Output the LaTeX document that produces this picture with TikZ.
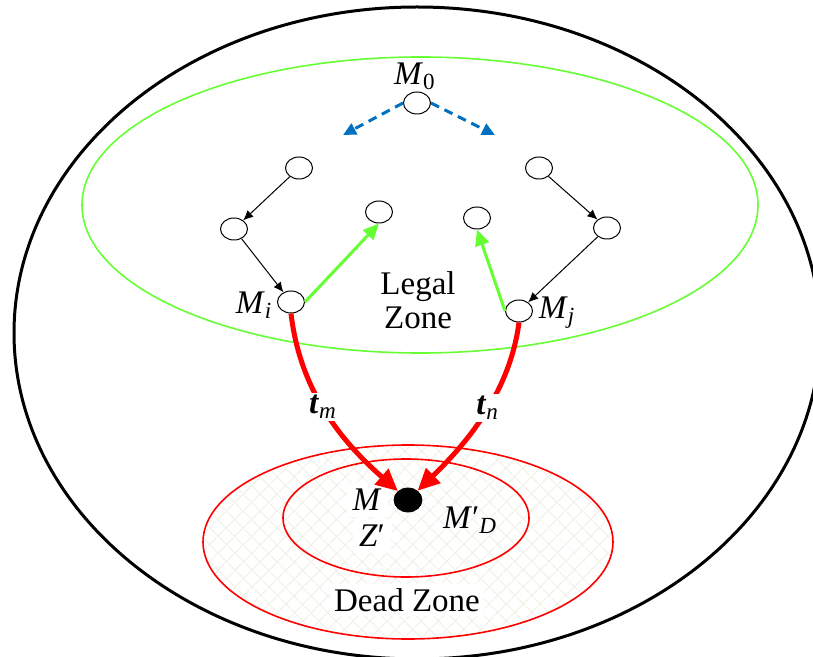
\documentclass[tikz,border=0pt]{standalone}
\usepackage{fontspec}
\setmainfont{Liberation Serif}
\usepackage{tikz}
\usetikzlibrary{arrows.meta,shapes.geometric,patterns.meta}
\definecolor{legalgreen}{RGB}{102,255,51}
\definecolor{dashblue}{RGB}{0,112,192}
\definecolor{deadred}{RGB}{255,0,0}
\definecolor{hatchcol}{RGB}{238,238,226}
\tikzset{
  st/.style    ={draw=black, ellipse, line width=0.5pt, fill=white,
                 minimum width=13.5pt, minimum height=11pt, inner sep=0pt},
  lbl/.style   ={font=\fontsize{16.5}{17}\selectfont, inner sep=1pt},
  ar/.style    ={-{Latex[length=5pt,width=4.5pt]}, draw=black, line width=0.5pt},
  gar/.style   ={-{Triangle[length=8pt,width=7pt]}, draw=legalgreen, line width=1.5pt},
  dar/.style   ={-{Triangle[length=6.5pt,width=6pt]}, draw=dashblue, line width=1.5pt,
                 dash pattern=on 4.5pt off 3pt},
  rar/.style   ={-{Triangle[length=11pt,width=10pt]}, draw=deadred, line width=2.5pt},
}

\begin{document}
\begin{tikzpicture}[x=0.5pt,y=-0.5pt]
\useasboundingbox (0,0) rectangle (813,657);

% zones
\draw[line width=1.5pt] (417,333) ellipse [x radius=403, y radius=326];
\draw[draw=legalgreen, line width=0.8pt] (420,205) ellipse [x radius=338, y radius=148];
\fill[pattern={Lines[angle=45,distance=6.5pt,line width=0.6pt]}, pattern color=hatchcol]
   (408,542) ellipse [x radius=205, y radius=97];
\fill[pattern={Lines[angle=-45,distance=6.5pt,line width=0.6pt]}, pattern color=hatchcol]
   (408,542) ellipse [x radius=205, y radius=97];
\draw[draw=deadred, line width=0.8pt] (408,542) ellipse [x radius=205, y radius=97];
\draw[draw=deadred, line width=0.8pt] (406,518) ellipse [x radius=123, y radius=59];

% states
\node[st] (m0) at (417,103) {};
\node[st] (lt) at (299,168) {};
\node[st] (lm) at (234,229) {};
\node[st] (mi) at (291,302) {};
\node[st] (lg) at (379,212) {};
\node[st] (rt) at (539,168) {};
\node[st] (rm) at (607,228) {};
\node[st] (mj) at (519,311) {};
\node[st] (rg) at (477,218) {};
\node[draw=black, fill=black, ellipse, minimum width=14pt, minimum height=12pt, inner sep=0pt]
   (dot) at (408,500) {};
\coordinate (bl) at (343,135);
\coordinate (br) at (495,135);

% labels
\node[lbl] (m0l) at (415,76) {\textit{M}\textsubscript{0}};
\node[lbl] (mil) at (254,305) {\textit{M}\textsubscript{\textit{i}}};
\node[lbl] (mjl) at (557,313) {\textit{M}\textsubscript{\textit{j}}};
\node[lbl, align=center] (legal) at (418,300) {Legal\\Zone};
\node[lbl, fill=white, inner sep=3pt] (ml) at (367,500) {\textit{M}};
\node[lbl, fill=white, inner sep=3pt] (zl) at (372,536) {\textit{Z}′};
\node[lbl] (mdl) at (470,520) {\textit{M}′\textsubscript{\textit{D}}};
\node[lbl, fill=white, inner sep=2pt] (dead) at (407,600) {Dead Zone};

% transitions
\draw[dar] (m0.west) -- (bl);
\draw[dar] (m0.east) -- (br);
\draw[ar] (lt) -- (lm);
\draw[ar] (lm) -- (mi);
\draw[ar] (rt) -- (rm);
\draw[ar] (rm) -- (mj);
\draw[gar] (mi.east) -- (lg.south);
\draw[gar] (mj.west) -- (rg.south);

% into the dead zone
\draw[rar] (mi.south) .. controls (300,390) and (340,440) .. (dot)
   node[pos=0.47, lbl, fill=white] (tm) {\textbf{\textit{t}}\textsubscript{\textit{m}}};
\draw[rar] (mj.south) .. controls (510,390) and (470,440) .. (dot)
   node[pos=0.47, lbl, fill=white] (tn) {\textbf{\textit{t}}\textsubscript{\textit{n}}};
\end{tikzpicture}
\end{document}
